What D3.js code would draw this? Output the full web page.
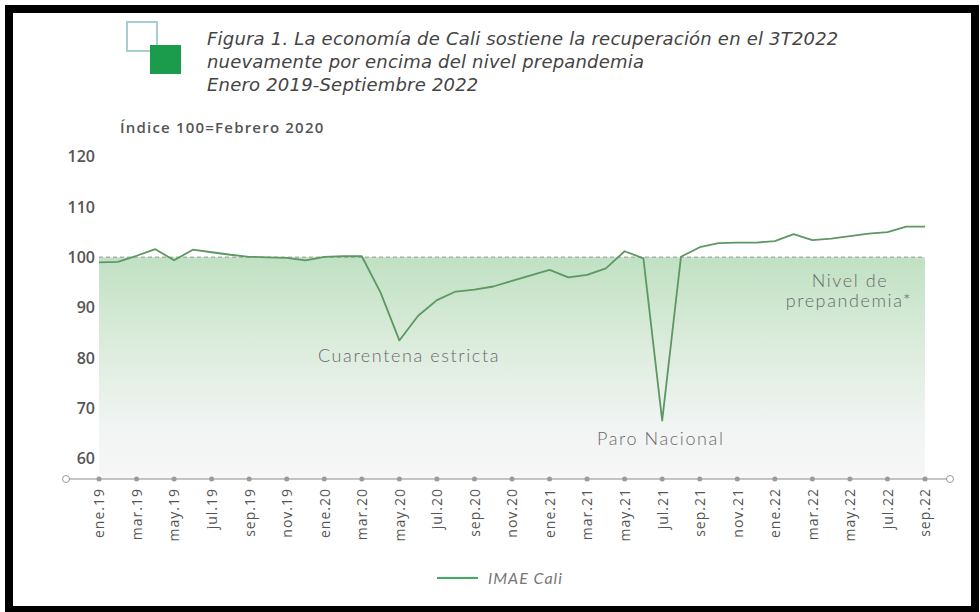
<!DOCTYPE html>
<html>
<head>
<meta charset="utf-8">
<script src="https://cdnjs.cloudflare.com/ajax/libs/d3/7.8.5/d3.min.js"></script>
<style>
  body { margin: 0; background: #fff; }
  text { font-family: "Lato", "Open Sans", sans-serif; }
</style>
</head>
<body>
<svg id="mysvg" width="980" height="612"></svg>
<script>
// IMAE Cali, indice 100 = febrero 2020
var nombresMes = ["ene","feb","mar","abr","may","jun","jul","ago","sep","oct","nov","dic"];
var anios = ["19","20","21","22"];
var meses = [];
for (var a = 0; a < anios.length; a++) {
  for (var m = 0; m < 12; m++) {
    if (anios[a] === "22" && m > 8) break;
    meses.push(nombresMes[m] + "." + anios[a]);
  }
}

var imae = [
  99.0, 99.1, 100.3, 101.6, 99.4, 101.5, 101.0, 100.5, 100.1, 100.0, 99.9, 99.4,   // 2019
  100.1, 100.2, 100.2, 93.0, 83.5, 88.4, 91.5, 93.2, 93.6, 94.2, 95.3, 96.4,       // 2020
  97.5, 96.0, 96.5, 97.8, 101.2, 99.8, 67.6, 100.1, 102.0, 102.8, 102.9, 102.9,    // 2021
  103.2, 104.6, 103.4, 103.7, 104.2, 104.7, 105.0, 106.1, 106.1                    // 2022
];

var yTicks = [60, 70, 80, 90, 100, 110, 120];
var xTicks = meses.filter(function(d, i) { return i % 2 === 0; });

var titulo = [
  "Figura 1. La economía de Cali sostiene la recuperación en el 3T2022",
  "nuevamente por encima del nivel prepandemia",
  "Enero 2019-Septiembre 2022"
];

var mydata = meses.map(function(d, i) { return {x: d, y: imae[i]}; });

var svg = d3.select("#mysvg");

var x = d3.scalePoint().domain(meses).range([99, 925]),
    y = d3.scaleLinear().domain([56, 120]).range([479, 156.5]);

// degradado del area prepandemia
var defs = svg.append("defs");
var grad = defs.append("linearGradient")
    .attr("id", "fondo")
    .attr("x1", 0).attr("y1", 0).attr("x2", 0).attr("y2", 1);
grad.append("stop").attr("offset", "0%").attr("stop-color", "#c0e1c3");
grad.append("stop").attr("offset", "40%").attr("stop-color", "#dcecdc");
grad.append("stop").attr("offset", "75%").attr("stop-color", "#f0f4f2");
grad.append("stop").attr("offset", "100%").attr("stop-color", "#f7f7f7");

svg.append("rect")
    .attr("x", x(meses[0]))
    .attr("y", y(100))
    .attr("width", x(meses[meses.length - 1]) - x(meses[0]))
    .attr("height", y(56) - y(100))
    .attr("fill", "url(#fondo)");

// linea punteada nivel 100
svg.append("line")
    .attr("x1", x(meses[0])).attr("x2", x(meses[meses.length - 1]))
    .attr("y1", y(100)).attr("y2", y(100))
    .attr("stroke", "#a9b3ab")
    .attr("stroke-width", 1.5)
    .attr("stroke-dasharray", "4,3");

// eje y
var gy = svg.append("g")
    .attr("transform", "translate(95,0)")
    .call(d3.axisLeft(y).tickValues(yTicks).tickSize(0).tickPadding(0));
gy.select(".domain").remove();
gy.selectAll("text")
    .attr("fill", "#555")
    .style("font-family", "'Open Sans', sans-serif")
    .style("font-size", "16px")
    .style("font-weight", "600");

// eje x
svg.append("line")
    .attr("x1", 66).attr("x2", 950)
    .attr("y1", y(56)).attr("y2", y(56))
    .attr("stroke", "#8c8c8c")
    .attr("stroke-width", 1.2);

svg.selectAll(".tickdot")
    .data(xTicks)
    .enter().append("circle")
    .attr("class", "tickdot")
    .attr("cx", function(d) { return x(d); })
    .attr("cy", y(56))
    .attr("r", 2.5)
    .attr("fill", "#9a9a9a");

svg.selectAll(".extremo")
    .data([66, 950])
    .enter().append("circle")
    .attr("class", "extremo")
    .attr("cx", function(d) { return d; })
    .attr("cy", y(56))
    .attr("r", 3.5)
    .attr("fill", "#fff")
    .attr("stroke", "#9a9a9a");

var gx = svg.append("g")
    .attr("transform", "translate(0," + y(56) + ")")
    .call(d3.axisBottom(x).tickValues(xTicks).tickSize(0));
gx.select(".domain").remove();
gx.selectAll("text")
    .attr("transform", "rotate(-90)")
    .attr("x", -9)
    .attr("y", 0)
    .attr("dy", "0.35em")
    .style("text-anchor", "end")
    .style("font-family", "'Open Sans', sans-serif")
    .style("font-size", "14px")
    .style("letter-spacing", "1px")
    .attr("fill", "#555");

// serie
var linea = d3.line()
    .x(function(d) { return x(d.x); })
    .y(function(d) { return y(d.y); });

svg.append("path")
    .datum(mydata)
    .attr("d", linea)
    .attr("fill", "none")
    .attr("stroke", "#5d9763")
    .attr("stroke-width", 1.8)
    .attr("stroke-linejoin", "round");

// anotaciones
function nota(txt, px, py, anchor) {
  svg.append("text")
      .attr("x", px).attr("y", py)
      .attr("text-anchor", anchor)
      .text(txt)
      .style("fill", "#6a6a6a")
      .style("font-size", "18px")
      .style("font-weight", "300")
      .style("letter-spacing", "1.6px");
}
nota("Cuarentena estricta", 318, 362, "start");
nota("Paro Nacional", 597, 445, "start");
nota("Nivel de", 850, 287, "middle");
nota("prepandemia*", 849, 307, "middle");

// titulo
svg.append("rect")
    .attr("x", 127).attr("y", 22).attr("width", 30).attr("height", 29)
    .attr("fill", "none").attr("stroke", "#a7cfd2").attr("stroke-width", 2);
svg.append("rect")
    .attr("x", 150).attr("y", 45).attr("width", 31).attr("height", 29)
    .attr("fill", "#1b9c4c");

svg.selectAll(".titulo")
    .data(titulo)
    .enter().append("text")
    .attr("class", "titulo")
    .attr("x", 207)
    .attr("y", function(d, i) { return 45 + i * 23; })
    .text(function(d) { return d; })
    .style("fill", "#444")
    .style("font-family", "'DejaVu Sans', sans-serif")
    .style("font-size", "18px")
    .style("font-style", "italic")
    .style("letter-spacing", "0.2px");

svg.append("text")
    .attr("x", 120).attr("y", 133)
    .text("Índice 100=Febrero 2020")
    .style("fill", "#555")
    .style("font-family", "'Open Sans', sans-serif")
    .style("font-size", "15px")
    .style("font-weight", "600")
    .style("letter-spacing", "1.2px");

// leyenda
svg.append("line")
    .attr("x1", 437).attr("x2", 478)
    .attr("y1", 578).attr("y2", 578)
    .attr("stroke", "#3fae5e")
    .attr("stroke-width", 2);
svg.append("text")
    .attr("x", 488).attr("y", 584)
    .text("IMAE Cali")
    .style("fill", "#777")
    .style("font-size", "16px")
    .style("font-style", "italic")
    .style("letter-spacing", "1px");

// marco
svg.append("rect")
    .attr("x", 9).attr("y", 9)
    .attr("width", 966).attr("height", 601)
    .attr("fill", "none")
    .attr("stroke", "#000")
    .attr("stroke-width", 8);
</script>
</body>
</html>
